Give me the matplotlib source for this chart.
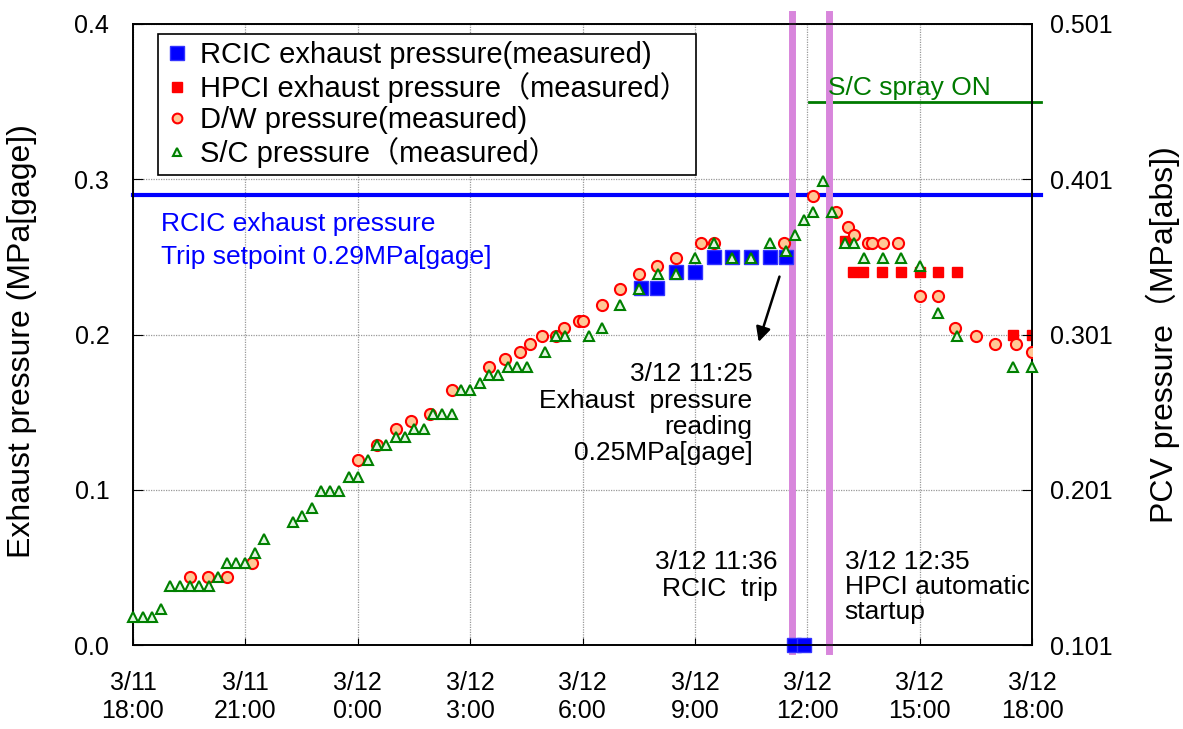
import matplotlib
matplotlib.use('Agg')
import matplotlib.pyplot as plt
from matplotlib.lines import Line2D

plt.rcParams['font.family'] = ['Liberation Sans', 'Noto Sans CJK JP']

# time axis: hours after 3/11 18:00
x_ticks = [0, 3, 6, 9, 12, 15, 18, 21, 24]
x_tick_labels = ['3/11\n18:00', '3/11\n21:00', '3/12\n0:00', '3/12\n3:00', '3/12\n6:00',
                 '3/12\n9:00', '3/12\n12:00', '3/12\n15:00', '3/12\n18:00']
gage_ticks = [0.0, 0.1, 0.2, 0.3, 0.4]
pcv_ticks = [0.101, 0.201, 0.301, 0.401, 0.501]

# RCIC exhaust pressure, MPa[gage]
rcic_t = [13.55, 14.0, 14.5, 15.0, 15.5, 16.0, 16.5, 17.0, 17.42, 17.65, 17.92]
rcic_p = [0.23, 0.23, 0.24, 0.24, 0.25, 0.25, 0.25, 0.25, 0.25, 0.0, 0.0]

# HPCI exhaust pressure, MPa[gage]
hpci_t = [19.0, 19.22, 19.5, 20.0, 20.5, 21.0, 21.5, 22.0, 23.5, 24.0]
hpci_p = [0.26, 0.24, 0.24, 0.24, 0.24, 0.24, 0.24, 0.24, 0.20, 0.20]

# D/W pressure, MPa[abs]
dw_t = [1.51, 2.0, 2.5, 3.18, 6.01, 6.51, 7.01, 7.42, 7.92, 8.51, 9.5, 9.92, 10.32,
        10.59, 10.93, 11.28, 11.5, 11.9, 12.01, 12.51, 13.01, 13.51, 14.0, 14.5,
        15.17, 15.5, 17.37, 18.15, 18.78, 19.09, 19.24, 19.61, 19.72, 20.01, 20.42,
        21.0, 21.5, 21.95, 22.5, 23.0, 23.57, 24.0]
dw_p = [0.145, 0.145, 0.145, 0.154, 0.22, 0.23, 0.24, 0.245, 0.25, 0.265, 0.28, 0.285, 0.29,
        0.295, 0.30, 0.30, 0.305, 0.31, 0.31, 0.32, 0.33, 0.34, 0.345, 0.35,
        0.36, 0.36, 0.36, 0.39, 0.38, 0.37, 0.365, 0.36, 0.36, 0.36, 0.36,
        0.326, 0.326, 0.305, 0.30, 0.295, 0.295, 0.29]

# S/C pressure, MPa[abs]
sc_t = [0.0, 0.26, 0.51, 0.76, 1.0, 1.26, 1.51, 1.77, 2.02, 2.26, 2.5, 2.76, 3.0, 3.26,
        3.51, 4.26, 4.51, 4.77, 5.01, 5.25, 5.51, 5.76, 6.01, 6.27, 6.51, 6.76, 7.01,
        7.26, 7.51, 7.76, 8.01, 8.26, 8.51, 8.76, 9.01, 9.26, 9.5, 9.75, 10.01, 10.26,
        10.51, 11.01, 11.28, 11.52, 12.17, 12.51, 13.01, 13.51, 14.01, 14.5, 15.0, 15.5,
        16.0, 16.5, 17.0, 17.42, 17.66, 17.91, 18.16, 18.42, 18.66, 19.0, 19.24, 19.51,
        20.01, 20.5, 21.0, 21.49, 22.0, 23.49, 24.0]
sc_p = [0.119, 0.119, 0.119, 0.124, 0.139, 0.139, 0.139, 0.139, 0.139, 0.145, 0.154, 0.154,
        0.154, 0.16, 0.169, 0.18, 0.184, 0.189, 0.20, 0.20, 0.20, 0.209, 0.209, 0.22, 0.23,
        0.23, 0.235, 0.235, 0.24, 0.24, 0.25, 0.25, 0.25, 0.265, 0.265, 0.27, 0.275, 0.275,
        0.28, 0.28, 0.28, 0.29, 0.30, 0.30, 0.30, 0.305, 0.32, 0.33, 0.34, 0.34, 0.35, 0.36,
        0.35, 0.35, 0.36, 0.355, 0.365, 0.375, 0.38, 0.40, 0.38, 0.36, 0.36, 0.35,
        0.35, 0.35, 0.345, 0.315, 0.30, 0.28, 0.28]

rcic_trip_t = 17.6      # 3/12 11:36
hpci_start_t = 18.58    # 3/12 12:35
trip_setpoint = 0.29

fig = plt.figure(figsize=(11.83, 7.29), dpi=100)
ax = fig.add_axes([0.1124, 0.1152, 0.760, 0.8519])
ax2 = ax.twinx()

ax.set_xlim(0, 24)
ax.set_ylim(0, 0.4)
ax2.set_ylim(0.101, 0.501)

ax.grid(True, color='#999999', linestyle=(0, (1, 1)), linewidth=0.9)

# event lines
for t in [rcic_trip_t, hpci_start_t]:
    ax.axvline(t, ymin=-0.01, ymax=1.016, color='#D886DC', lw=5, zorder=3, clip_on=False)
ax.axhline(trip_setpoint, xmin=0, xmax=1.01, color='#0000FF', lw=3, zorder=2.5, clip_on=False)
ax.plot([18.05, 24.25], [0.35, 0.35], color='#007A00', lw=2, clip_on=False)

ax.plot(rcic_t, rcic_p, ls='none', marker='s', ms=9.5, mfc='#0000FF', mec='#3333FF',
        clip_on=False, zorder=4)
ax.plot(hpci_t, hpci_p, ls='none', marker='s', ms=7, color='#FF0000', zorder=4)

ax2.plot(dw_t, dw_p, ls='none', marker='o', ms=8, mfc='#FFC896', mec='#FF0000', mew=1.5,
         zorder=4)
ax2.plot(sc_t, sc_p, ls='none', marker='^', ms=6.5, mfc='#E2F6E2', mec='#008000', mew=1.5,
         zorder=5, clip_on=False)

ax.set_xticks(x_ticks)
ax.set_xticklabels(x_tick_labels)
ax.set_yticks(gage_ticks)
ax.yaxis.set_major_formatter('{x:.1f}')
ax2.set_yticks(pcv_ticks)
ax2.yaxis.set_major_formatter('{x:.3f}')

ax.tick_params(axis='x', direction='in', length=5, pad=19, labelsize=18)
ax.tick_params(axis='y', direction='in', length=7, pad=17, labelsize=18)
ax2.tick_params(axis='y', direction='in', length=7, pad=13, labelsize=18)
for a in [ax, ax2]:
    for s in a.spines.values():
        s.set_linewidth(1.2)

ax.set_ylabel('Exhaust pressure (MPa[gage])', fontsize=23)
ax.yaxis.set_label_coords(-0.107, 0.49)
ax2.set_ylabel('PCV pressure（MPa[abs])', fontsize=23)
ax2.yaxis.set_label_coords(1.126, 0.5)

# texts
ax.text(18.55, 0.359, 'S/C spray ON', color='#007A00', fontsize=19, va='center')
ax.text(0.76, 0.271, 'RCIC exhaust pressure', color='#0000FF', fontsize=19, va='center')
ax.text(0.76, 0.25, 'Trip setpoint 0.29MPa[gage]', color='#0000FF', fontsize=19, va='center')
ax.text(16.54, 0.182, '3/12 11:25\nExhaust  pressure\nreading\n0.25MPa[gage]',
        fontsize=19, ha='right', va='top', linespacing=1.12)
ax.annotate('', xy=(16.68, 0.1935), xytext=(17.28, 0.239),
            arrowprops=dict(arrowstyle='-|>', color='black', lw=1.8, mutation_scale=22))
ax.text(17.21, 0.061, '3/12 11:36\nRCIC  trip', fontsize=19, ha='right', va='top',
        linespacing=1.12)
ax.text(19.0, 0.061, '3/12 12:35\nHPCI automatic\nstartup', fontsize=19, ha='left', va='top',
        linespacing=1.05)

handles = [
    Line2D([], [], ls='none', marker='s', ms=10, mfc='#0000FF', mec='#3333FF'),
    Line2D([], [], ls='none', marker='s', ms=6.5, color='#FF0000'),
    Line2D([], [], ls='none', marker='o', ms=7, mfc='#FFC896', mec='#FF0000', mew=1.5),
    Line2D([], [], ls='none', marker='^', ms=5.5, mfc='#E2F6E2', mec='#008000', mew=1.5),
]
labels = ['RCIC exhaust pressure(measured)', 'HPCI exhaust pressure（measured）',
          'D/W pressure(measured)', 'S/C pressure（measured）']
leg = ax2.legend(handles, labels, loc='upper left', bbox_to_anchor=(0.028, 0.984),
                 borderaxespad=0, fontsize=21, fancybox=False, edgecolor='black',
                 framealpha=1, labelspacing=0.1, handlelength=0.8, handletextpad=0.4,
                 borderpad=0.25)
leg.get_frame().set_linewidth(1.2)
leg.set_zorder(10)

fig.savefig('out.png', dpi=100)
